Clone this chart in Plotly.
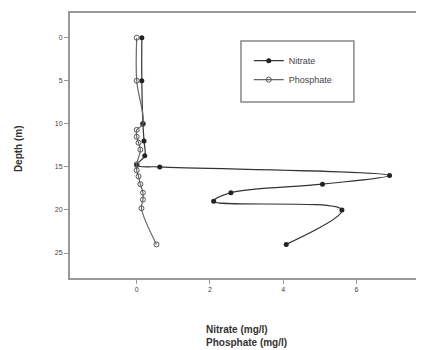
import plotly.graph_objects as go

# Data
nitrate_depth = [0, 5, 10, 12, 13.7, 14.8, 15, 16, 17, 18, 19, 20, 24]
nitrate_val = [0.14, 0.14, 0.17, 0.2, 0.22, 0.0, 0.63, 6.9, 5.07, 2.57, 2.1, 5.6, 4.08]

phos_depth = [0, 5, 10, 10.7, 11.5, 12.2, 13, 14.7, 15.4, 16.1, 17, 18, 18.8, 19.8, 24]
phos_val = [0.0, 0.0, 0.17, 0.0, 0.0, 0.05, 0.1, 0.0, 0.0, 0.05, 0.1, 0.17, 0.17, 0.13, 0.54]

x_ticks = [0, 2, 4, 6]
y_ticks = [0, 5, 10, 15, 20, 25]

fig = go.Figure()
fig.add_trace(go.Scatter(
    x=nitrate_val, y=nitrate_depth, name="Nitrate", mode="lines+markers",
    line=dict(color="#333333", width=1.2, shape="spline", smoothing=1),
    marker=dict(symbol="circle", size=5, color="#222222"),
))
fig.add_trace(go.Scatter(
    x=phos_val, y=phos_depth, name="Phosphate", mode="lines+markers",
    line=dict(color="#666666", width=1.2, shape="spline", smoothing=1),
    marker=dict(symbol="circle-open", size=5, color="#555555", line=dict(width=1)),
))

axis_font = dict(family="Liberation Sans, Arial, sans-serif", size=7, color="#444444")
title_font = dict(family="Liberation Sans, Arial, sans-serif", size=10, color="#333333")

fig.update_layout(
    width=416, height=342,
    margin=dict(l=62, r=0, t=5, b=72),
    plot_bgcolor="white", paper_bgcolor="white",
    showlegend=True,
    legend=dict(x=0.505, y=0.875, xanchor="left", yanchor="top",
                bgcolor="rgba(0,0,0,0)", borderwidth=0,
                font=dict(family="Liberation Sans, Arial, sans-serif", size=9, color="#444444"),
                tracegroupgap=0, itemwidth=30),
    xaxis=dict(range=[-1.82, 7.84], tickvals=x_ticks, ticktext=[str(v) for v in x_ticks],
               showgrid=False, zeroline=False, showline=True, linecolor="#999999",
               linewidth=2, mirror=True, ticks="outside", ticklen=4, tickcolor="#999999",
               tickfont=axis_font),
    yaxis=dict(range=[27.9, -2.87], tickvals=y_ticks, ticktext=[str(v) for v in y_ticks],
               showgrid=False, zeroline=False, showline=True, linecolor="#999999",
               linewidth=2, mirror=False, ticks="outside", ticklen=4, tickcolor="#999999",
               tickfont=axis_font),
    shapes=[dict(type="rect", xref="paper", yref="paper",
                 x0=0.483, x1=0.802, y0=0.664, y1=0.894,
                 line=dict(color="#888888", width=1.5), fillcolor="rgba(0,0,0,0)")],
    annotations=[
        dict(text="<b>Nitrate (mg/l)</b><br><b>Phosphate (mg/l)</b>", xref="paper", yref="paper",
             x=0.379, y=-0.165, xanchor="left", yanchor="top", align="left",
             showarrow=False, font=title_font),
        dict(text="<b>Depth (m)</b>", xref="paper", yref="paper", x=-0.147, y=0.49,
             xanchor="center", yanchor="middle", textangle=-90, showarrow=False,
             font=title_font),
    ],
)

fig.write_html("out.html")
